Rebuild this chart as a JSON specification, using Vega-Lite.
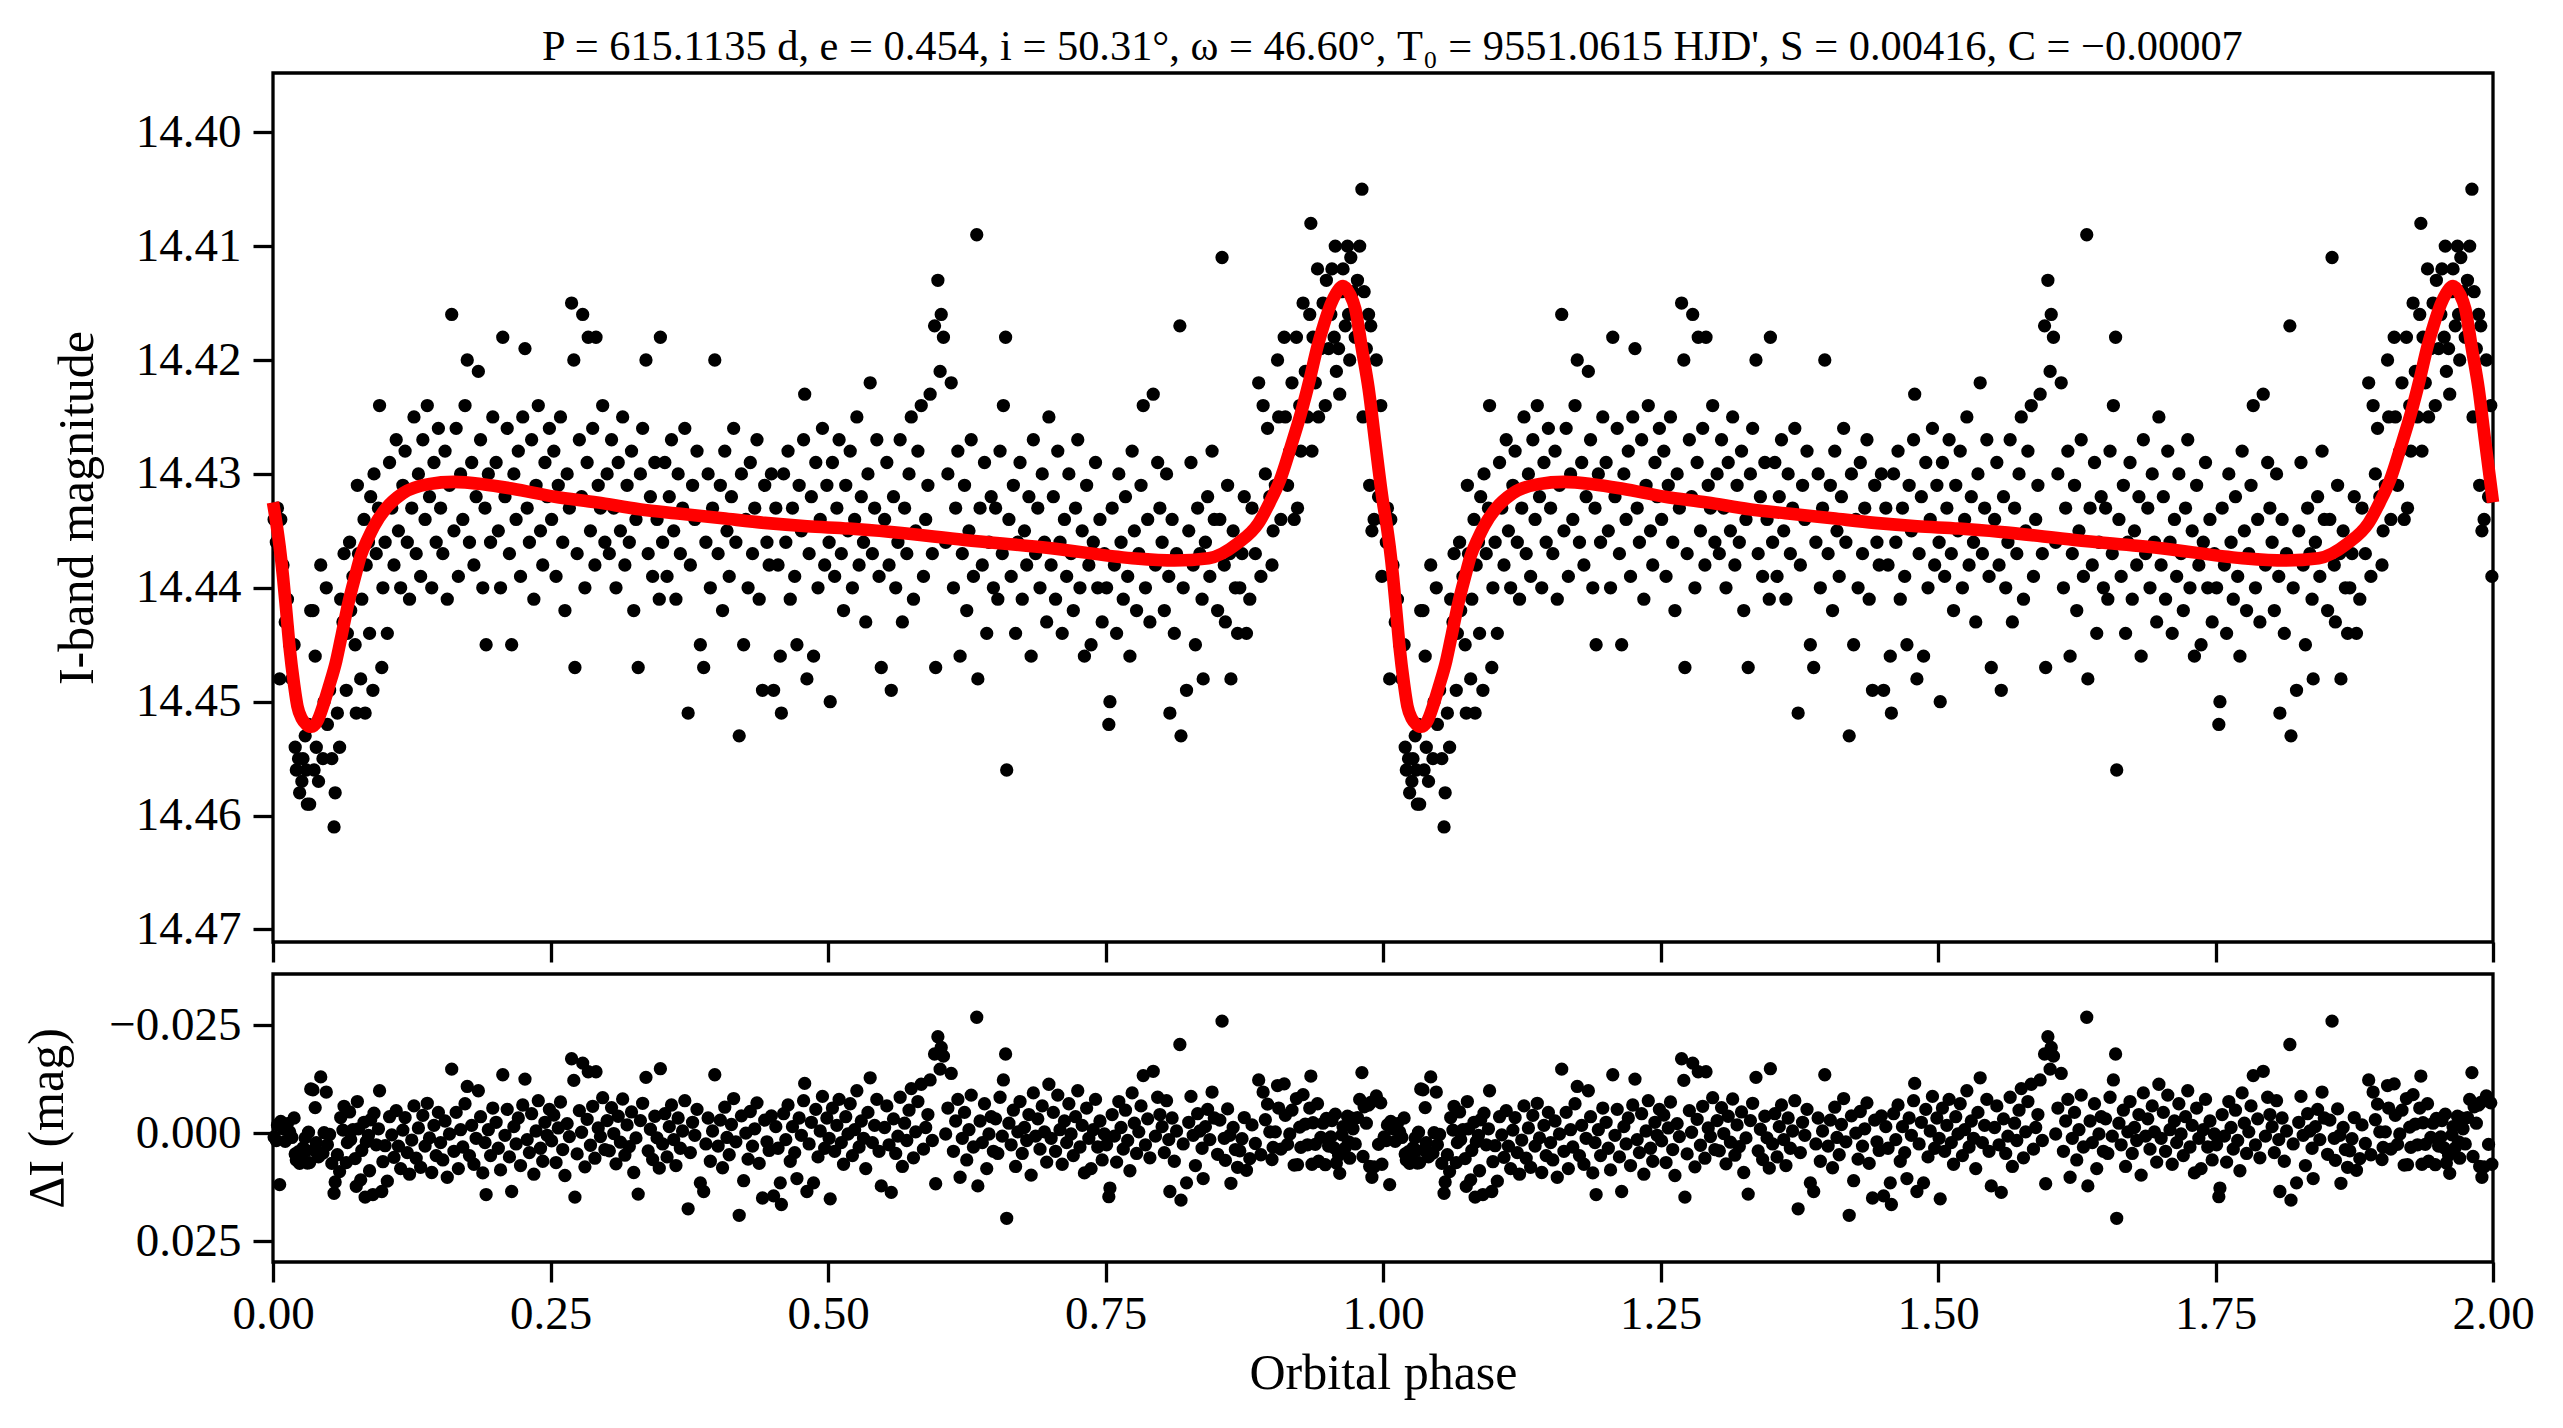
{
  "$schema": "https://vega.github.io/schema/vega-lite/v6.json",
  "background": "white",
  "padding": {"left": 21, "top": 25, "right": 5, "bottom": 5},
  "title": {
    "text": "P = 615.1135 d, e = 0.454, i = 50.31°, ω = 46.60°, T₀ = 9551.0615 HJD', S = 0.00416, C = −0.00007",
    "font": "Liberation Serif", "fontSize": 42.4, "fontWeight": "normal", "color": "black",
    "anchor": "middle", "offset": 2, "dx": 114
  },
  "config": {
    "view": {"stroke": "black", "strokeWidth": 3.3},
    "axis": {
      "domain": false, "grid": false, "labelFlush": false,
      "tickSize": 20, "tickWidth": 3.3, "tickColor": "black",
      "labelFont": "Liberation Serif", "labelFontSize": 47, "labelColor": "black", "labelPadding": 12,
      "titleFont": "Liberation Serif", "titleFontSize": 50, "titleFontWeight": "normal", "titleColor": "black"
    },
    "concat": {"spacing": 6}
  },
  "datasets": {
    "fit": [
      {"p":0,"c":14.4325},{"p":0.003,"c":14.4343},{"p":0.006,"c":14.4364},{"p":0.009,"c":14.439},{"p":0.012,"c":14.4421},{"p":0.015,"c":14.4453},{"p":0.019,"c":14.4485},{"p":0.022,"c":14.4504},{"p":0.026,"c":14.4515},{"p":0.03,"c":14.452},{"p":0.0345,"c":14.4522},{"p":0.04,"c":14.4517},{"p":0.045,"c":14.4504},{"p":0.05,"c":14.4488},{"p":0.057,"c":14.4464},{"p":0.062,"c":14.4441},{"p":0.068,"c":14.4413},{"p":0.074,"c":14.439},{"p":0.079,"c":14.4372},{"p":0.085,"c":14.4358},{"p":0.091,"c":14.4346},{"p":0.102,"c":14.433},{"p":0.117,"c":14.4317},{"p":0.14,"c":14.4309},{"p":0.163,"c":14.4307},{"p":0.189,"c":14.4309},{"p":0.216,"c":14.4313},{"p":0.254,"c":14.432},{"p":0.292,"c":14.4325},{"p":0.33,"c":14.4331},{"p":0.367,"c":14.4335},{"p":0.405,"c":14.4339},{"p":0.443,"c":14.4343},{"p":0.481,"c":14.4346},{"p":0.519,"c":14.4348},{"p":0.557,"c":14.4351},{"p":0.623,"c":14.4358},{"p":0.699,"c":14.4365},{"p":0.774,"c":14.4374},{"p":0.812,"c":14.4376},{"p":0.843,"c":14.4374},{"p":0.869,"c":14.4361},{"p":0.888,"c":14.4343},{"p":0.898,"c":14.4325},{"p":0.907,"c":14.4306},{"p":0.917,"c":14.4276},{"p":0.926,"c":14.4247},{"p":0.934,"c":14.4217},{"p":0.941,"c":14.4188},{"p":0.947,"c":14.4168},{"p":0.953,"c":14.4151},{"p":0.958,"c":14.4141},{"p":0.964,"c":14.4135},{"p":0.97,"c":14.4142},{"p":0.975,"c":14.4155},{"p":0.981,"c":14.419},{"p":0.987,"c":14.4225},{"p":0.993,"c":14.4272},
      {"p":1,"c":14.4325},{"p":1.003,"c":14.4343},{"p":1.006,"c":14.4364},{"p":1.009,"c":14.439},{"p":1.012,"c":14.4421},{"p":1.015,"c":14.4453},{"p":1.019,"c":14.4485},{"p":1.022,"c":14.4504},{"p":1.026,"c":14.4515},{"p":1.03,"c":14.452},{"p":1.0345,"c":14.4522},{"p":1.04,"c":14.4517},{"p":1.045,"c":14.4504},{"p":1.05,"c":14.4488},{"p":1.057,"c":14.4464},{"p":1.062,"c":14.4441},{"p":1.068,"c":14.4413},{"p":1.074,"c":14.439},{"p":1.079,"c":14.4372},{"p":1.085,"c":14.4358},{"p":1.091,"c":14.4346},{"p":1.102,"c":14.433},{"p":1.117,"c":14.4317},{"p":1.14,"c":14.4309},{"p":1.163,"c":14.4307},{"p":1.189,"c":14.4309},{"p":1.216,"c":14.4313},{"p":1.254,"c":14.432},{"p":1.292,"c":14.4325},{"p":1.33,"c":14.4331},{"p":1.367,"c":14.4335},{"p":1.405,"c":14.4339},{"p":1.443,"c":14.4343},{"p":1.481,"c":14.4346},{"p":1.519,"c":14.4348},{"p":1.557,"c":14.4351},{"p":1.623,"c":14.4358},{"p":1.699,"c":14.4365},{"p":1.774,"c":14.4374},{"p":1.812,"c":14.4376},{"p":1.843,"c":14.4374},{"p":1.869,"c":14.4361},{"p":1.888,"c":14.4343},{"p":1.898,"c":14.4325},{"p":1.907,"c":14.4306},{"p":1.917,"c":14.4276},{"p":1.926,"c":14.4247},{"p":1.934,"c":14.4217},{"p":1.941,"c":14.4188},{"p":1.947,"c":14.4168},{"p":1.953,"c":14.4151},{"p":1.958,"c":14.4141},{"p":1.964,"c":14.4135},{"p":1.97,"c":14.4142},{"p":1.975,"c":14.4155},{"p":1.981,"c":14.419},{"p":1.987,"c":14.4225},{"p":1.993,"c":14.4272},{"p":2,"c":14.4325}
    ],
    "pts": [
      {"p":0.001,"m":14.434,"r":0.0009},{"p":0.003,"m":14.436,"r":0.0017},{"p":0.004,"m":14.433,"r":-0.0019},{"p":0.006,"m":14.448,"r":0.0119},{"p":0.007,"m":14.434,"r":-0.0027},{"p":0.009,"m":14.438,"r":-0.001},
      {"p":0.011,"m":14.443,"r":0.0019},{"p":0.013,"m":14.441,"r":-0.0022},{"p":0.015,"m":14.445,"r":-0.0003},{"p":0.017,"m":14.448,"r":0.001},{"p":0.019,"m":14.445,"r":-0.0035},{"p":0.02,"m":14.454,"r":0.0048},{"p":0.021,"m":14.456,"r":0.0062},{"p":0.023,"m":14.455,"r":0.0043},{"p":0.024,"m":14.458,"r":0.007},{"p":0.026,"m":14.457,"r":0.0056},{"p":0.027,"m":14.455,"r":0.0034},{"p":0.029,"m":14.453,"r":0.0011},{"p":0.03,"m":14.456,"r":0.004},
      {"p":0.031,"m":14.459,"r":0.0069},{"p":0.032,"m":14.452,"r":-0.0002},{"p":0.033,"m":14.459,"r":0.0068},{"p":0.034,"m":14.442,"r":-0.0102},{"p":0.036,"m":14.442,"r":-0.01},{"p":0.037,"m":14.456,"r":0.0039},{"p":0.038,"m":14.446,"r":-0.0059},{"p":0.039,"m":14.454,"r":0.0022},{"p":0.041,"m":14.457,"r":0.0055},{"p":0.043,"m":14.438,"r":-0.013},{"p":0.045,"m":14.455,"r":0.0046},{"p":0.046,"m":14.45,"r":-0.0001},{"p":0.048,"m":14.44,"r":-0.0095},{"p":0.049,"m":14.452,"r":0.0027},{"p":0.051,"m":14.449,"r":0.0003},{"p":0.053,"m":14.455,"r":0.007},{"p":0.055,"m":14.461,"r":0.0139},{"p":0.056,"m":14.458,"r":0.0113},{"p":0.058,"m":14.451,"r":0.005},{"p":0.06,"m":14.454,"r":0.0089},
      {"p":0.061,"m":14.441,"r":-0.0036},{"p":0.063,"m":14.443,"r":-0.0007},{"p":0.064,"m":14.437,"r":-0.0062},{"p":0.066,"m":14.449,"r":0.0068},{"p":0.067,"m":14.444,"r":0.0022},{"p":0.069,"m":14.436,"r":-0.0049},{"p":0.07,"m":14.442,"r":0.0015},{"p":0.072,"m":14.439,"r":-0.0008},{"p":0.074,"m":14.445,"r":0.0059},{"p":0.075,"m":14.451,"r":0.0123},{"p":0.076,"m":14.431,"r":-0.0073},{"p":0.077,"m":14.437,"r":-0.001},{"p":0.079,"m":14.448,"r":0.0108},{"p":0.08,"m":14.441,"r":0.004},{"p":0.082,"m":14.434,"r":-0.0025},{"p":0.083,"m":14.451,"r":0.0148},{"p":0.084,"m":14.438,"r":0.002},{"p":0.086,"m":14.436,"r":0.0005},{"p":0.087,"m":14.444,"r":0.0087},{"p":0.088,"m":14.432,"r":-0.0031},{"p":0.09,"m":14.449,"r":0.0142},{"p":0.091,"m":14.43,"r":-0.0046},{"p":0.093,"m":14.437,"r":0.0027},{"p":0.095,"m":14.433,"r":-0.001},{"p":0.096,"m":14.424,"r":-0.0098},{"p":0.098,"m":14.447,"r":0.0135},{"p":0.099,"m":14.44,"r":0.0066},
      {"p":0.101,"m":14.436,"r":0.0029},{"p":0.103,"m":14.444,"r":0.0111},{"p":0.105,"m":14.429,"r":-0.0038},{"p":0.107,"m":14.433,"r":0.0004},{"p":0.109,"m":14.438,"r":0.0056},{"p":0.111,"m":14.427,"r":-0.0052},{"p":0.113,"m":14.435,"r":0.003},{"p":0.115,"m":14.44,"r":0.0082},{"p":0.117,"m":14.431,"r":-0.0007},{"p":0.119,"m":14.428,"r":-0.0036},{"p":0.121,"m":14.436,"r":0.0045},{"p":0.123,"m":14.441,"r":0.0095},{"p":0.125,"m":14.433,"r":0.0016},{"p":0.127,"m":14.425,"r":-0.0063},{"p":0.129,"m":14.437,"r":0.0058},{"p":0.131,"m":14.43,"r":-0.0012},{"p":0.133,"m":14.439,"r":0.0079},{"p":0.135,"m":14.427,"r":-0.0041},{"p":0.137,"m":14.434,"r":0.003},{"p":0.139,"m":14.424,"r":-0.0069},{"p":0.141,"m":14.432,"r":0.0011},{"p":0.143,"m":14.44,"r":0.0091},{"p":0.145,"m":14.429,"r":-0.0018},{"p":0.147,"m":14.436,"r":0.0052},{"p":0.149,"m":14.426,"r":-0.0048},
      {"p":0.151,"m":14.433,"r":0.0022},{"p":0.153,"m":14.437,"r":0.0062},{"p":0.155,"m":14.428,"r":-0.0028},{"p":0.157,"m":14.441,"r":0.0102},{"p":0.159,"m":14.431,"r":0.0002},{"p":0.161,"m":14.416,"r":-0.0148},{"p":0.163,"m":14.435,"r":0.0042},{"p":0.165,"m":14.426,"r":-0.0048},{"p":0.167,"m":14.439,"r":0.0082},{"p":0.169,"m":14.43,"r":-0.0008},{"p":0.171,"m":14.434,"r":0.0032},{"p":0.173,"m":14.424,"r":-0.0068},{"p":0.175,"m":14.42,"r":-0.0108},{"p":0.177,"m":14.436,"r":0.0052},{"p":0.179,"m":14.429,"r":-0.0018},{"p":0.181,"m":14.438,"r":0.0072},{"p":0.183,"m":14.432,"r":0.0012},{"p":0.185,"m":14.421,"r":-0.0098},{"p":0.187,"m":14.427,"r":-0.0038},{"p":0.189,"m":14.44,"r":0.0092},{"p":0.191,"m":14.433,"r":0.0022},{"p":0.192,"m":14.445,"r":0.0142},{"p":0.194,"m":14.43,"r":-0.0008},{"p":0.196,"m":14.436,"r":0.0052},{"p":0.198,"m":14.425,"r":-0.0058},
      {"p":0.201,"m":14.429,"r":-0.0025},{"p":0.203,"m":14.435,"r":0.0035},{"p":0.205,"m":14.44,"r":0.0085},{"p":0.207,"m":14.418,"r":-0.0135},{"p":0.209,"m":14.432,"r":0.0005},{"p":0.211,"m":14.426,"r":-0.0055},{"p":0.213,"m":14.437,"r":0.0055},{"p":0.215,"m":14.445,"r":0.0135},{"p":0.217,"m":14.43,"r":-0.0015},{"p":0.219,"m":14.434,"r":0.0025},{"p":0.221,"m":14.428,"r":-0.0035},{"p":0.223,"m":14.439,"r":0.0075},{"p":0.225,"m":14.425,"r":-0.0065},{"p":0.227,"m":14.419,"r":-0.0125},{"p":0.229,"m":14.433,"r":0.0015},{"p":0.231,"m":14.436,"r":0.0045},{"p":0.233,"m":14.427,"r":-0.0045},{"p":0.235,"m":14.441,"r":0.0095},{"p":0.237,"m":14.431,"r":-0.0005},{"p":0.239,"m":14.424,"r":-0.0075},{"p":0.241,"m":14.435,"r":0.0035},{"p":0.243,"m":14.438,"r":0.0065},{"p":0.245,"m":14.429,"r":-0.0025},{"p":0.247,"m":14.432,"r":0.0005},{"p":0.249,"m":14.426,"r":-0.0055},
      {"p":0.251,"m":14.434,"r":0.0018},{"p":0.253,"m":14.428,"r":-0.0042},{"p":0.255,"m":14.439,"r":0.0068},{"p":0.257,"m":14.431,"r":-0.0012},{"p":0.259,"m":14.425,"r":-0.0072},{"p":0.261,"m":14.436,"r":0.0038},{"p":0.263,"m":14.442,"r":0.0098},{"p":0.265,"m":14.43,"r":-0.0022},{"p":0.267,"m":14.433,"r":0.0008},{"p":0.269,"m":14.415,"r":-0.0172},{"p":0.271,"m":14.42,"r":-0.0122},{"p":0.272,"m":14.447,"r":0.0148},{"p":0.274,"m":14.437,"r":0.0048},{"p":0.276,"m":14.427,"r":-0.0052},{"p":0.278,"m":14.432,"r":-0.0002},{"p":0.279,"m":14.416,"r":-0.0162},{"p":0.281,"m":14.44,"r":0.0078},{"p":0.283,"m":14.429,"r":-0.0032},{"p":0.284,"m":14.418,"r":-0.0142},{"p":0.286,"m":14.435,"r":0.0028},{"p":0.288,"m":14.426,"r":-0.0062},{"p":0.29,"m":14.438,"r":0.0058},{"p":0.291,"m":14.418,"r":-0.0142},{"p":0.293,"m":14.431,"r":-0.0012},{"p":0.295,"m":14.433,"r":0.0008},{"p":0.297,"m":14.424,"r":-0.0082},{"p":0.299,"m":14.436,"r":0.0038},
      {"p":0.301,"m":14.43,"r":-0.0029},{"p":0.303,"m":14.437,"r":0.0041},{"p":0.305,"m":14.427,"r":-0.0059},{"p":0.307,"m":14.433,"r":0.0001},{"p":0.309,"m":14.44,"r":0.0071},{"p":0.311,"m":14.429,"r":-0.0039},{"p":0.313,"m":14.435,"r":0.0021},{"p":0.315,"m":14.425,"r":-0.0079},{"p":0.317,"m":14.438,"r":0.0051},{"p":0.319,"m":14.431,"r":-0.0019},{"p":0.321,"m":14.436,"r":0.0031},{"p":0.323,"m":14.428,"r":-0.0049},{"p":0.325,"m":14.442,"r":0.0091},{"p":0.327,"m":14.434,"r":0.0011},{"p":0.329,"m":14.447,"r":0.0141},{"p":0.331,"m":14.43,"r":-0.0029},{"p":0.333,"m":14.426,"r":-0.0069},{"p":0.336,"m":14.42,"r":-0.0129},{"p":0.338,"m":14.437,"r":0.0041},{"p":0.34,"m":14.432,"r":-0.0009},{"p":0.342,"m":14.439,"r":0.0061},{"p":0.344,"m":14.429,"r":-0.0039},{"p":0.346,"m":14.434,"r":0.0011},{"p":0.348,"m":14.441,"r":0.0081},{"p":0.349,"m":14.418,"r":-0.0149},
      {"p":0.351,"m":14.436,"r":0.0025},{"p":0.353,"m":14.429,"r":-0.0045},{"p":0.355,"m":14.439,"r":0.0055},{"p":0.357,"m":14.432,"r":-0.0015},{"p":0.359,"m":14.427,"r":-0.0065},{"p":0.361,"m":14.435,"r":0.0015},{"p":0.363,"m":14.441,"r":0.0075},{"p":0.365,"m":14.43,"r":-0.0035},{"p":0.367,"m":14.437,"r":0.0035},{"p":0.369,"m":14.433,"r":-0.0005},{"p":0.371,"m":14.426,"r":-0.0075},{"p":0.374,"m":14.451,"r":0.0175},{"p":0.376,"m":14.438,"r":0.0045},{"p":0.378,"m":14.431,"r":-0.0025},{"p":0.38,"m":14.434,"r":0.0005},{"p":0.382,"m":14.428,"r":-0.0055},{"p":0.385,"m":14.445,"r":0.0115},{"p":0.388,"m":14.447,"r":0.0135},{"p":0.39,"m":14.436,"r":0.0025},{"p":0.392,"m":14.43,"r":-0.0035},{"p":0.394,"m":14.44,"r":0.0065},{"p":0.396,"m":14.433,"r":-0.0005},{"p":0.398,"m":14.42,"r":-0.0135},
      {"p":0.401,"m":14.437,"r":0.003},{"p":0.403,"m":14.431,"r":-0.003},{"p":0.405,"m":14.442,"r":0.008},{"p":0.407,"m":14.428,"r":-0.006},{"p":0.409,"m":14.435,"r":0.001},{"p":0.411,"m":14.439,"r":0.005},{"p":0.413,"m":14.432,"r":-0.002},{"p":0.415,"m":14.426,"r":-0.008},{"p":0.417,"m":14.436,"r":0.002},{"p":0.42,"m":14.453,"r":0.019},{"p":0.422,"m":14.43,"r":-0.004},{"p":0.424,"m":14.445,"r":0.011},{"p":0.426,"m":14.434,"r":0},{"p":0.428,"m":14.44,"r":0.006},{"p":0.43,"m":14.429,"r":-0.005},{"p":0.432,"m":14.437,"r":0.003},{"p":0.434,"m":14.433,"r":-0.001},{"p":0.436,"m":14.427,"r":-0.007},{"p":0.438,"m":14.441,"r":0.007},{"p":0.441,"m":14.449,"r":0.015},{"p":0.443,"m":14.431,"r":-0.003},{"p":0.445,"m":14.436,"r":0.002},{"p":0.447,"m":14.438,"r":0.004},{"p":0.449,"m":14.43,"r":-0.004},
      {"p":0.451,"m":14.449,"r":0.0145},{"p":0.453,"m":14.433,"r":-0.0015},{"p":0.455,"m":14.438,"r":0.0035},{"p":0.457,"m":14.446,"r":0.0115},{"p":0.458,"m":14.451,"r":0.0165},{"p":0.46,"m":14.43,"r":-0.0045},{"p":0.462,"m":14.436,"r":0.0015},{"p":0.464,"m":14.428,"r":-0.0065},{"p":0.466,"m":14.441,"r":0.0065},{"p":0.468,"m":14.433,"r":-0.0015},{"p":0.47,"m":14.439,"r":0.0045},{"p":0.472,"m":14.445,"r":0.0105},{"p":0.474,"m":14.431,"r":-0.0035},{"p":0.476,"m":14.435,"r":0.0005},{"p":0.478,"m":14.427,"r":-0.0075},{"p":0.479,"m":14.423,"r":-0.0115},{"p":0.481,"m":14.448,"r":0.0135},{"p":0.483,"m":14.437,"r":0.0025},{"p":0.485,"m":14.432,"r":-0.0025},{"p":0.487,"m":14.446,"r":0.0115},{"p":0.489,"m":14.429,"r":-0.0055},{"p":0.491,"m":14.44,"r":0.0055},{"p":0.493,"m":14.434,"r":-0.0005},{"p":0.495,"m":14.426,"r":-0.0085},{"p":0.497,"m":14.438,"r":0.0035},{"p":0.499,"m":14.431,"r":-0.0035},
      {"p":0.501,"m":14.436,"r":0.0012},{"p":0.502,"m":14.45,"r":0.0152},{"p":0.504,"m":14.429,"r":-0.0058},{"p":0.506,"m":14.439,"r":0.0042},{"p":0.508,"m":14.433,"r":-0.0018},{"p":0.51,"m":14.427,"r":-0.0078},{"p":0.512,"m":14.437,"r":0.0022},{"p":0.514,"m":14.442,"r":0.0072},{"p":0.516,"m":14.431,"r":-0.0038},{"p":0.518,"m":14.435,"r":0.0002},{"p":0.52,"m":14.428,"r":-0.0068},{"p":0.522,"m":14.44,"r":0.0052},{"p":0.524,"m":14.434,"r":-0.0008},{"p":0.526,"m":14.425,"r":-0.0098},{"p":0.528,"m":14.438,"r":0.0032},{"p":0.53,"m":14.432,"r":-0.0028},{"p":0.532,"m":14.436,"r":0.0012},{"p":0.534,"m":14.443,"r":0.0082},{"p":0.536,"m":14.43,"r":-0.0048},{"p":0.538,"m":14.422,"r":-0.0128},{"p":0.54,"m":14.437,"r":0.0022},{"p":0.542,"m":14.433,"r":-0.0018},{"p":0.544,"m":14.427,"r":-0.0078},{"p":0.546,"m":14.439,"r":0.0042},{"p":0.548,"m":14.447,"r":0.0122},
      {"p":0.551,"m":14.434,"r":-0.0013},{"p":0.553,"m":14.429,"r":-0.0063},{"p":0.555,"m":14.438,"r":0.0027},{"p":0.557,"m":14.449,"r":0.0137},{"p":0.559,"m":14.432,"r":-0.0033},{"p":0.561,"m":14.44,"r":0.0047},{"p":0.563,"m":14.436,"r":0.0007},{"p":0.565,"m":14.427,"r":-0.0083},{"p":0.567,"m":14.443,"r":0.0077},{"p":0.569,"m":14.433,"r":-0.0023},{"p":0.571,"m":14.437,"r":0.0017},{"p":0.573,"m":14.43,"r":-0.0053},{"p":0.575,"m":14.425,"r":-0.0103},{"p":0.577,"m":14.441,"r":0.0057},{"p":0.579,"m":14.435,"r":-0.0003},{"p":0.581,"m":14.428,"r":-0.0073},{"p":0.584,"m":14.424,"r":-0.0113},{"p":0.586,"m":14.439,"r":0.0037},{"p":0.588,"m":14.434,"r":-0.0013},{"p":0.59,"m":14.431,"r":-0.0043},{"p":0.592,"m":14.423,"r":-0.0123},{"p":0.594,"m":14.437,"r":0.0017},{"p":0.596,"m":14.417,"r":-0.0183},{"p":0.597,"m":14.447,"r":0.0117},{"p":0.599,"m":14.413,"r":-0.0223},
      {"p":0.601,"m":14.421,"r":-0.0148},{"p":0.602,"m":14.416,"r":-0.0198},{"p":0.604,"m":14.418,"r":-0.0178},{"p":0.606,"m":14.436,"r":0.0002},{"p":0.608,"m":14.43,"r":-0.0058},{"p":0.611,"m":14.422,"r":-0.0138},{"p":0.613,"m":14.44,"r":0.0042},{"p":0.615,"m":14.433,"r":-0.0028},{"p":0.617,"m":14.428,"r":-0.0078},{"p":0.619,"m":14.446,"r":0.0102},{"p":0.621,"m":14.437,"r":0.0012},{"p":0.623,"m":14.431,"r":-0.0048},{"p":0.625,"m":14.442,"r":0.0062},{"p":0.627,"m":14.435,"r":-0.0008},{"p":0.629,"m":14.427,"r":-0.0088},{"p":0.631,"m":14.439,"r":0.0032},{"p":0.634,"m":14.409,"r":-0.0268},{"p":0.635,"m":14.448,"r":0.0122},{"p":0.637,"m":14.433,"r":-0.0028},{"p":0.639,"m":14.438,"r":0.0022},{"p":0.641,"m":14.429,"r":-0.0068},{"p":0.643,"m":14.444,"r":0.0082},{"p":0.645,"m":14.436,"r":0.0002},{"p":0.647,"m":14.432,"r":-0.0038},{"p":0.649,"m":14.44,"r":0.0042},
      {"p":0.651,"m":14.433,"r":-0.0033},{"p":0.653,"m":14.441,"r":0.0047},{"p":0.655,"m":14.428,"r":-0.0083},{"p":0.657,"m":14.437,"r":0.0007},{"p":0.658,"m":14.424,"r":-0.0123},{"p":0.66,"m":14.418,"r":-0.0183},{"p":0.661,"m":14.456,"r":0.0197},{"p":0.663,"m":14.434,"r":-0.0023},{"p":0.665,"m":14.439,"r":0.0027},{"p":0.667,"m":14.431,"r":-0.0053},{"p":0.669,"m":14.444,"r":0.0077},{"p":0.671,"m":14.436,"r":-0.0003},{"p":0.673,"m":14.429,"r":-0.0073},{"p":0.675,"m":14.441,"r":0.0047},{"p":0.677,"m":14.435,"r":-0.0013},{"p":0.679,"m":14.438,"r":0.0017},{"p":0.681,"m":14.432,"r":-0.0043},{"p":0.683,"m":14.446,"r":0.0097},{"p":0.685,"m":14.427,"r":-0.0093},{"p":0.687,"m":14.437,"r":0.0007},{"p":0.689,"m":14.433,"r":-0.0033},{"p":0.691,"m":14.44,"r":0.0037},{"p":0.693,"m":14.43,"r":-0.0063},{"p":0.695,"m":14.436,"r":-0.0003},{"p":0.697,"m":14.443,"r":0.0067},{"p":0.699,"m":14.425,"r":-0.0113},
      {"p":0.701,"m":14.438,"r":0.0012},{"p":0.703,"m":14.432,"r":-0.0048},{"p":0.705,"m":14.441,"r":0.0042},{"p":0.707,"m":14.428,"r":-0.0088},{"p":0.709,"m":14.436,"r":-0.0008},{"p":0.711,"m":14.444,"r":0.0072},{"p":0.713,"m":14.434,"r":-0.0028},{"p":0.715,"m":14.439,"r":0.0022},{"p":0.717,"m":14.43,"r":-0.0068},{"p":0.719,"m":14.437,"r":0.0002},{"p":0.721,"m":14.442,"r":0.0052},{"p":0.723,"m":14.433,"r":-0.0038},{"p":0.725,"m":14.427,"r":-0.0098},{"p":0.727,"m":14.44,"r":0.0032},{"p":0.729,"m":14.435,"r":-0.0018},{"p":0.731,"m":14.446,"r":0.0092},{"p":0.733,"m":14.431,"r":-0.0058},{"p":0.735,"m":14.438,"r":0.0012},{"p":0.737,"m":14.445,"r":0.0082},{"p":0.739,"m":14.436,"r":-0.0008},{"p":0.741,"m":14.429,"r":-0.0078},{"p":0.743,"m":14.44,"r":0.0032},{"p":0.745,"m":14.434,"r":-0.0028},{"p":0.747,"m":14.443,"r":0.0062},{"p":0.749,"m":14.437,"r":0.0002},
      {"p":0.751,"m":14.44,"r":0.0027},{"p":0.753,"m":14.452,"r":0.0147},{"p":0.754,"m":14.45,"r":0.0127},{"p":0.756,"m":14.433,"r":-0.0043},{"p":0.758,"m":14.438,"r":0.0007},{"p":0.76,"m":14.444,"r":0.0067},{"p":0.762,"m":14.43,"r":-0.0073},{"p":0.764,"m":14.436,"r":-0.0013},{"p":0.766,"m":14.441,"r":0.0037},{"p":0.768,"m":14.432,"r":-0.0053},{"p":0.77,"m":14.439,"r":0.0017},{"p":0.772,"m":14.446,"r":0.0087},{"p":0.774,"m":14.428,"r":-0.0093},{"p":0.776,"m":14.435,"r":-0.0023},{"p":0.778,"m":14.442,"r":0.0047},{"p":0.78,"m":14.437,"r":-0.0003},{"p":0.782,"m":14.431,"r":-0.0063},{"p":0.784,"m":14.424,"r":-0.0133},{"p":0.786,"m":14.44,"r":0.0027},{"p":0.788,"m":14.434,"r":-0.0033},{"p":0.79,"m":14.443,"r":0.0057},{"p":0.793,"m":14.423,"r":-0.0143},{"p":0.795,"m":14.438,"r":0.0007},{"p":0.797,"m":14.429,"r":-0.0083},{"p":0.799,"m":14.433,"r":-0.0043},
      {"p":0.801,"m":14.436,"r":-0.0015},{"p":0.803,"m":14.442,"r":0.0045},{"p":0.805,"m":14.43,"r":-0.0075},{"p":0.807,"m":14.439,"r":0.0015},{"p":0.808,"m":14.451,"r":0.0135},{"p":0.81,"m":14.434,"r":-0.0035},{"p":0.812,"m":14.444,"r":0.0065},{"p":0.814,"m":14.437,"r":-0.0005},{"p":0.817,"m":14.417,"r":-0.0205},{"p":0.818,"m":14.453,"r":0.0155},{"p":0.82,"m":14.44,"r":0.0025},{"p":0.823,"m":14.449,"r":0.0115},{"p":0.825,"m":14.435,"r":-0.0025},{"p":0.827,"m":14.429,"r":-0.0085},{"p":0.829,"m":14.438,"r":0.0005},{"p":0.831,"m":14.445,"r":0.0075},{"p":0.833,"m":14.433,"r":-0.0045},{"p":0.835,"m":14.437,"r":-0.0005},{"p":0.837,"m":14.441,"r":0.0035},{"p":0.838,"m":14.448,"r":0.0105},{"p":0.84,"m":14.436,"r":-0.0015},{"p":0.842,"m":14.432,"r":-0.0055},{"p":0.844,"m":14.439,"r":0.0015},{"p":0.846,"m":14.428,"r":-0.0095},{"p":0.848,"m":14.434,"r":-0.0035},
      {"p":0.851,"m":14.442,"r":0.0049},{"p":0.853,"m":14.434,"r":-0.003},{"p":0.855,"m":14.411,"r":-0.0259},{"p":0.857,"m":14.438,"r":0.0012},{"p":0.858,"m":14.443,"r":0.0063},{"p":0.86,"m":14.431,"r":-0.0056},{"p":0.862,"m":14.437,"r":0.0005},{"p":0.863,"m":14.448,"r":0.0116},{"p":0.865,"m":14.435,"r":-0.0013},{"p":0.867,"m":14.44,"r":0.0038},{"p":0.869,"m":14.444,"r":0.0079},{"p":0.871,"m":14.44,"r":0.0041},{"p":0.873,"m":14.437,"r":0.0013},{"p":0.875,"m":14.432,"r":-0.0036},{"p":0.877,"m":14.444,"r":0.0086},{"p":0.88,"m":14.441,"r":0.0059},{"p":0.882,"m":14.433,"r":-0.0019},{"p":0.885,"m":14.437,"r":0.0024},{"p":0.888,"m":14.422,"r":-0.0123},{"p":0.89,"m":14.439,"r":0.005},{"p":0.892,"m":14.424,"r":-0.0095},{"p":0.894,"m":14.43,"r":-0.0031},{"p":0.896,"m":14.426,"r":-0.0067},{"p":0.898,"m":14.432,"r":-0.0003},{"p":0.9,"m":14.438,"r":0.0061},{"p":0.901,"m":14.435,"r":0.0033},
      {"p":0.903,"m":14.431,"r":-0.0003},{"p":0.905,"m":14.42,"r":-0.011},{"p":0.906,"m":14.425,"r":-0.0058},{"p":0.908,"m":14.434,"r":0.0037},{"p":0.911,"m":14.418,"r":-0.0114},{"p":0.912,"m":14.425,"r":-0.0041},{"p":0.914,"m":14.431,"r":0.0026},{"p":0.916,"m":14.428,"r":0.0002},{"p":0.918,"m":14.422,"r":-0.0053},{"p":0.92,"m":14.434,"r":0.0074},{"p":0.922,"m":14.418,"r":-0.008},{"p":0.923,"m":14.433,"r":0.0073},{"p":0.925,"m":14.424,"r":-0.0014},{"p":0.926,"m":14.428,"r":0.0033},{"p":0.928,"m":14.415,"r":-0.0089},{"p":0.93,"m":14.421,"r":-0.0021},{"p":0.932,"m":14.425,"r":0.0027},{"p":0.934,"m":14.416,"r":-0.0058},{"p":0.935,"m":14.408,"r":-0.0132},{"p":0.936,"m":14.428,"r":0.0072},{"p":0.937,"m":14.418,"r":-0.0024},{"p":0.939,"m":14.422,"r":0.0026},{"p":0.941,"m":14.412,"r":-0.0068},{"p":0.942,"m":14.425,"r":0.0065},{"p":0.944,"m":14.419,"r":0.001},{"p":0.946,"m":14.415,"r":-0.0023},{"p":0.948,"m":14.424,"r":0.0073},{"p":0.949,"m":14.413,"r":-0.0034},{"p":0.951,"m":14.419,"r":0.003},{"p":0.953,"m":14.416,"r":0.0009},{"p":0.954,"m":14.412,"r":-0.0029},{"p":0.956,"m":14.418,"r":0.0034},{"p":0.957,"m":14.41,"r":-0.0044},{"p":0.958,"m":14.421,"r":0.0069},{"p":0.96,"m":14.419,"r":0.0051},{"p":0.961,"m":14.423,"r":0.0093},{"p":0.963,"m":14.414,"r":0.0004},{"p":0.964,"m":14.412,"r":-0.0015},{"p":0.966,"m":14.417,"r":0.0034},{"p":0.968,"m":14.41,"r":-0.0039},{"p":0.969,"m":14.416,"r":0.002},{"p":0.97,"m":14.42,"r":0.0058},{"p":0.971,"m":14.411,"r":-0.0035},{"p":0.973,"m":14.414,"r":-0.001},{"p":0.975,"m":14.418,"r":0.0025},{"p":0.977,"m":14.413,"r":-0.0036},{"p":0.979,"m":14.41,"r":-0.0078},{"p":0.981,"m":14.405,"r":-0.014},{"p":0.982,"m":14.425,"r":0.0054},{"p":0.983,"m":14.414,"r":-0.0061},{"p":0.985,"m":14.419,"r":-0.0023},{"p":0.987,"m":14.416,"r":-0.0065},{"p":0.988,"m":14.431,"r":0.0077},{"p":0.989,"m":14.417,"r":-0.0071},{"p":0.99,"m":14.435,"r":0.0102},{"p":0.992,"m":14.434,"r":0.0078},{"p":0.994,"m":14.42,"r":-0.0086},{"p":0.996,"m":14.432,"r":0.0026},{"p":0.998,"m":14.424,"r":-0.007},{"p":0.999,"m":14.439,"r":0.0072},
      {"p":1.001,"m":14.434,"r":0.0009},{"p":1.003,"m":14.436,"r":0.0017},{"p":1.004,"m":14.433,"r":-0.0019},{"p":1.006,"m":14.448,"r":0.0119},{"p":1.007,"m":14.434,"r":-0.0027},{"p":1.009,"m":14.438,"r":-0.001},
      {"p":1.011,"m":14.443,"r":0.0019},{"p":1.013,"m":14.441,"r":-0.0022},{"p":1.015,"m":14.445,"r":-0.0003},{"p":1.017,"m":14.448,"r":0.001},{"p":1.019,"m":14.445,"r":-0.0035},{"p":1.02,"m":14.454,"r":0.0048},{"p":1.021,"m":14.456,"r":0.0062},{"p":1.023,"m":14.455,"r":0.0043},{"p":1.024,"m":14.458,"r":0.007},{"p":1.026,"m":14.457,"r":0.0056},{"p":1.027,"m":14.455,"r":0.0034},{"p":1.029,"m":14.453,"r":0.0011},{"p":1.03,"m":14.456,"r":0.004},
      {"p":1.031,"m":14.459,"r":0.0069},{"p":1.032,"m":14.452,"r":-0.0002},{"p":1.033,"m":14.459,"r":0.0068},{"p":1.034,"m":14.442,"r":-0.0102},{"p":1.036,"m":14.442,"r":-0.01},{"p":1.037,"m":14.456,"r":0.0039},{"p":1.038,"m":14.446,"r":-0.0059},{"p":1.039,"m":14.454,"r":0.0022},{"p":1.041,"m":14.457,"r":0.0055},{"p":1.043,"m":14.438,"r":-0.013},{"p":1.045,"m":14.455,"r":0.0046},{"p":1.046,"m":14.45,"r":-0.0001},{"p":1.048,"m":14.44,"r":-0.0095},{"p":1.049,"m":14.452,"r":0.0027},{"p":1.051,"m":14.449,"r":0.0003},{"p":1.053,"m":14.455,"r":0.007},{"p":1.055,"m":14.461,"r":0.0139},{"p":1.056,"m":14.458,"r":0.0113},{"p":1.058,"m":14.451,"r":0.005},{"p":1.06,"m":14.454,"r":0.0089},
      {"p":1.061,"m":14.441,"r":-0.0036},{"p":1.063,"m":14.443,"r":-0.0007},{"p":1.064,"m":14.437,"r":-0.0062},{"p":1.066,"m":14.449,"r":0.0068},{"p":1.067,"m":14.444,"r":0.0022},{"p":1.069,"m":14.436,"r":-0.0049},{"p":1.07,"m":14.442,"r":0.0015},{"p":1.072,"m":14.439,"r":-0.0008},{"p":1.074,"m":14.445,"r":0.0059},{"p":1.075,"m":14.451,"r":0.0123},{"p":1.076,"m":14.431,"r":-0.0073},{"p":1.077,"m":14.437,"r":-0.001},{"p":1.079,"m":14.448,"r":0.0108},{"p":1.08,"m":14.441,"r":0.004},{"p":1.082,"m":14.434,"r":-0.0025},{"p":1.083,"m":14.451,"r":0.0148},{"p":1.084,"m":14.438,"r":0.002},{"p":1.086,"m":14.436,"r":0.0005},{"p":1.087,"m":14.444,"r":0.0087},{"p":1.088,"m":14.432,"r":-0.0031},{"p":1.09,"m":14.449,"r":0.0142},{"p":1.091,"m":14.43,"r":-0.0046},{"p":1.093,"m":14.437,"r":0.0027},{"p":1.095,"m":14.433,"r":-0.001},{"p":1.096,"m":14.424,"r":-0.0098},{"p":1.098,"m":14.447,"r":0.0135},{"p":1.099,"m":14.44,"r":0.0066},
      {"p":1.101,"m":14.436,"r":0.0029},{"p":1.103,"m":14.444,"r":0.0111},{"p":1.105,"m":14.429,"r":-0.0038},{"p":1.107,"m":14.433,"r":0.0004},{"p":1.109,"m":14.438,"r":0.0056},{"p":1.111,"m":14.427,"r":-0.0052},{"p":1.113,"m":14.435,"r":0.003},{"p":1.115,"m":14.44,"r":0.0082},{"p":1.117,"m":14.431,"r":-0.0007},{"p":1.119,"m":14.428,"r":-0.0036},{"p":1.121,"m":14.436,"r":0.0045},{"p":1.123,"m":14.441,"r":0.0095},{"p":1.125,"m":14.433,"r":0.0016},{"p":1.127,"m":14.425,"r":-0.0063},{"p":1.129,"m":14.437,"r":0.0058},{"p":1.131,"m":14.43,"r":-0.0012},{"p":1.133,"m":14.439,"r":0.0079},{"p":1.135,"m":14.427,"r":-0.0041},{"p":1.137,"m":14.434,"r":0.003},{"p":1.139,"m":14.424,"r":-0.0069},{"p":1.141,"m":14.432,"r":0.0011},{"p":1.143,"m":14.44,"r":0.0091},{"p":1.145,"m":14.429,"r":-0.0018},{"p":1.147,"m":14.436,"r":0.0052},{"p":1.149,"m":14.426,"r":-0.0048},
      {"p":1.151,"m":14.433,"r":0.0022},{"p":1.153,"m":14.437,"r":0.0062},{"p":1.155,"m":14.428,"r":-0.0028},{"p":1.157,"m":14.441,"r":0.0102},{"p":1.159,"m":14.431,"r":0.0002},{"p":1.161,"m":14.416,"r":-0.0148},{"p":1.163,"m":14.435,"r":0.0042},{"p":1.165,"m":14.426,"r":-0.0048},{"p":1.167,"m":14.439,"r":0.0082},{"p":1.169,"m":14.43,"r":-0.0008},{"p":1.171,"m":14.434,"r":0.0032},{"p":1.173,"m":14.424,"r":-0.0068},{"p":1.175,"m":14.42,"r":-0.0108},{"p":1.177,"m":14.436,"r":0.0052},{"p":1.179,"m":14.429,"r":-0.0018},{"p":1.181,"m":14.438,"r":0.0072},{"p":1.183,"m":14.432,"r":0.0012},{"p":1.185,"m":14.421,"r":-0.0098},{"p":1.187,"m":14.427,"r":-0.0038},{"p":1.189,"m":14.44,"r":0.0092},{"p":1.191,"m":14.433,"r":0.0022},{"p":1.192,"m":14.445,"r":0.0142},{"p":1.194,"m":14.43,"r":-0.0008},{"p":1.196,"m":14.436,"r":0.0052},{"p":1.198,"m":14.425,"r":-0.0058},
      {"p":1.201,"m":14.429,"r":-0.0025},{"p":1.203,"m":14.435,"r":0.0035},{"p":1.205,"m":14.44,"r":0.0085},{"p":1.207,"m":14.418,"r":-0.0135},{"p":1.209,"m":14.432,"r":0.0005},{"p":1.211,"m":14.426,"r":-0.0055},{"p":1.213,"m":14.437,"r":0.0055},{"p":1.215,"m":14.445,"r":0.0135},{"p":1.217,"m":14.43,"r":-0.0015},{"p":1.219,"m":14.434,"r":0.0025},{"p":1.221,"m":14.428,"r":-0.0035},{"p":1.223,"m":14.439,"r":0.0075},{"p":1.225,"m":14.425,"r":-0.0065},{"p":1.227,"m":14.419,"r":-0.0125},{"p":1.229,"m":14.433,"r":0.0015},{"p":1.231,"m":14.436,"r":0.0045},{"p":1.233,"m":14.427,"r":-0.0045},{"p":1.235,"m":14.441,"r":0.0095},{"p":1.237,"m":14.431,"r":-0.0005},{"p":1.239,"m":14.424,"r":-0.0075},{"p":1.241,"m":14.435,"r":0.0035},{"p":1.243,"m":14.438,"r":0.0065},{"p":1.245,"m":14.429,"r":-0.0025},{"p":1.247,"m":14.432,"r":0.0005},{"p":1.249,"m":14.426,"r":-0.0055},
      {"p":1.251,"m":14.434,"r":0.0018},{"p":1.253,"m":14.428,"r":-0.0042},{"p":1.255,"m":14.439,"r":0.0068},{"p":1.257,"m":14.431,"r":-0.0012},{"p":1.259,"m":14.425,"r":-0.0072},{"p":1.261,"m":14.436,"r":0.0038},{"p":1.263,"m":14.442,"r":0.0098},{"p":1.265,"m":14.43,"r":-0.0022},{"p":1.267,"m":14.433,"r":0.0008},{"p":1.269,"m":14.415,"r":-0.0172},{"p":1.271,"m":14.42,"r":-0.0122},{"p":1.272,"m":14.447,"r":0.0148},{"p":1.274,"m":14.437,"r":0.0048},{"p":1.276,"m":14.427,"r":-0.0052},{"p":1.278,"m":14.432,"r":-0.0002},{"p":1.279,"m":14.416,"r":-0.0162},{"p":1.281,"m":14.44,"r":0.0078},{"p":1.283,"m":14.429,"r":-0.0032},{"p":1.284,"m":14.418,"r":-0.0142},{"p":1.286,"m":14.435,"r":0.0028},{"p":1.288,"m":14.426,"r":-0.0062},{"p":1.29,"m":14.438,"r":0.0058},{"p":1.291,"m":14.418,"r":-0.0142},{"p":1.293,"m":14.431,"r":-0.0012},{"p":1.295,"m":14.433,"r":0.0008},{"p":1.297,"m":14.424,"r":-0.0082},{"p":1.299,"m":14.436,"r":0.0038},
      {"p":1.301,"m":14.43,"r":-0.0029},{"p":1.303,"m":14.437,"r":0.0041},{"p":1.305,"m":14.427,"r":-0.0059},{"p":1.307,"m":14.433,"r":0.0001},{"p":1.309,"m":14.44,"r":0.0071},{"p":1.311,"m":14.429,"r":-0.0039},{"p":1.313,"m":14.435,"r":0.0021},{"p":1.315,"m":14.425,"r":-0.0079},{"p":1.317,"m":14.438,"r":0.0051},{"p":1.319,"m":14.431,"r":-0.0019},{"p":1.321,"m":14.436,"r":0.0031},{"p":1.323,"m":14.428,"r":-0.0049},{"p":1.325,"m":14.442,"r":0.0091},{"p":1.327,"m":14.434,"r":0.0011},{"p":1.329,"m":14.447,"r":0.0141},{"p":1.331,"m":14.43,"r":-0.0029},{"p":1.333,"m":14.426,"r":-0.0069},{"p":1.336,"m":14.42,"r":-0.0129},{"p":1.338,"m":14.437,"r":0.0041},{"p":1.34,"m":14.432,"r":-0.0009},{"p":1.342,"m":14.439,"r":0.0061},{"p":1.344,"m":14.429,"r":-0.0039},{"p":1.346,"m":14.434,"r":0.0011},{"p":1.348,"m":14.441,"r":0.0081},{"p":1.349,"m":14.418,"r":-0.0149},
      {"p":1.351,"m":14.436,"r":0.0025},{"p":1.353,"m":14.429,"r":-0.0045},{"p":1.355,"m":14.439,"r":0.0055},{"p":1.357,"m":14.432,"r":-0.0015},{"p":1.359,"m":14.427,"r":-0.0065},{"p":1.361,"m":14.435,"r":0.0015},{"p":1.363,"m":14.441,"r":0.0075},{"p":1.365,"m":14.43,"r":-0.0035},{"p":1.367,"m":14.437,"r":0.0035},{"p":1.369,"m":14.433,"r":-0.0005},{"p":1.371,"m":14.426,"r":-0.0075},{"p":1.374,"m":14.451,"r":0.0175},{"p":1.376,"m":14.438,"r":0.0045},{"p":1.378,"m":14.431,"r":-0.0025},{"p":1.38,"m":14.434,"r":0.0005},{"p":1.382,"m":14.428,"r":-0.0055},{"p":1.385,"m":14.445,"r":0.0115},{"p":1.388,"m":14.447,"r":0.0135},{"p":1.39,"m":14.436,"r":0.0025},{"p":1.392,"m":14.43,"r":-0.0035},{"p":1.394,"m":14.44,"r":0.0065},{"p":1.396,"m":14.433,"r":-0.0005},{"p":1.398,"m":14.42,"r":-0.0135},
      {"p":1.401,"m":14.437,"r":0.003},{"p":1.403,"m":14.431,"r":-0.003},{"p":1.405,"m":14.442,"r":0.008},{"p":1.407,"m":14.428,"r":-0.006},{"p":1.409,"m":14.435,"r":0.001},{"p":1.411,"m":14.439,"r":0.005},{"p":1.413,"m":14.432,"r":-0.002},{"p":1.415,"m":14.426,"r":-0.008},{"p":1.417,"m":14.436,"r":0.002},{"p":1.42,"m":14.453,"r":0.019},{"p":1.422,"m":14.43,"r":-0.004},{"p":1.424,"m":14.445,"r":0.011},{"p":1.426,"m":14.434,"r":0},{"p":1.428,"m":14.44,"r":0.006},{"p":1.43,"m":14.429,"r":-0.005},{"p":1.432,"m":14.437,"r":0.003},{"p":1.434,"m":14.433,"r":-0.001},{"p":1.436,"m":14.427,"r":-0.007},{"p":1.438,"m":14.441,"r":0.007},{"p":1.441,"m":14.449,"r":0.015},{"p":1.443,"m":14.431,"r":-0.003},{"p":1.445,"m":14.436,"r":0.002},{"p":1.447,"m":14.438,"r":0.004},{"p":1.449,"m":14.43,"r":-0.004},
      {"p":1.451,"m":14.449,"r":0.0145},{"p":1.453,"m":14.433,"r":-0.0015},{"p":1.455,"m":14.438,"r":0.0035},{"p":1.457,"m":14.446,"r":0.0115},{"p":1.458,"m":14.451,"r":0.0165},{"p":1.46,"m":14.43,"r":-0.0045},{"p":1.462,"m":14.436,"r":0.0015},{"p":1.464,"m":14.428,"r":-0.0065},{"p":1.466,"m":14.441,"r":0.0065},{"p":1.468,"m":14.433,"r":-0.0015},{"p":1.47,"m":14.439,"r":0.0045},{"p":1.472,"m":14.445,"r":0.0105},{"p":1.474,"m":14.431,"r":-0.0035},{"p":1.476,"m":14.435,"r":0.0005},{"p":1.478,"m":14.427,"r":-0.0075},{"p":1.479,"m":14.423,"r":-0.0115},{"p":1.481,"m":14.448,"r":0.0135},{"p":1.483,"m":14.437,"r":0.0025},{"p":1.485,"m":14.432,"r":-0.0025},{"p":1.487,"m":14.446,"r":0.0115},{"p":1.489,"m":14.429,"r":-0.0055},{"p":1.491,"m":14.44,"r":0.0055},{"p":1.493,"m":14.434,"r":-0.0005},{"p":1.495,"m":14.426,"r":-0.0085},{"p":1.497,"m":14.438,"r":0.0035},{"p":1.499,"m":14.431,"r":-0.0035},
      {"p":1.501,"m":14.436,"r":0.0012},{"p":1.502,"m":14.45,"r":0.0152},{"p":1.504,"m":14.429,"r":-0.0058},{"p":1.506,"m":14.439,"r":0.0042},{"p":1.508,"m":14.433,"r":-0.0018},{"p":1.51,"m":14.427,"r":-0.0078},{"p":1.512,"m":14.437,"r":0.0022},{"p":1.514,"m":14.442,"r":0.0072},{"p":1.516,"m":14.431,"r":-0.0038},{"p":1.518,"m":14.435,"r":0.0002},{"p":1.52,"m":14.428,"r":-0.0068},{"p":1.522,"m":14.44,"r":0.0052},{"p":1.524,"m":14.434,"r":-0.0008},{"p":1.526,"m":14.425,"r":-0.0098},{"p":1.528,"m":14.438,"r":0.0032},{"p":1.53,"m":14.432,"r":-0.0028},{"p":1.532,"m":14.436,"r":0.0012},{"p":1.534,"m":14.443,"r":0.0082},{"p":1.536,"m":14.43,"r":-0.0048},{"p":1.538,"m":14.422,"r":-0.0128},{"p":1.54,"m":14.437,"r":0.0022},{"p":1.542,"m":14.433,"r":-0.0018},{"p":1.544,"m":14.427,"r":-0.0078},{"p":1.546,"m":14.439,"r":0.0042},{"p":1.548,"m":14.447,"r":0.0122},
      {"p":1.551,"m":14.434,"r":-0.0013},{"p":1.553,"m":14.429,"r":-0.0063},{"p":1.555,"m":14.438,"r":0.0027},{"p":1.557,"m":14.449,"r":0.0137},{"p":1.559,"m":14.432,"r":-0.0033},{"p":1.561,"m":14.44,"r":0.0047},{"p":1.563,"m":14.436,"r":0.0007},{"p":1.565,"m":14.427,"r":-0.0083},{"p":1.567,"m":14.443,"r":0.0077},{"p":1.569,"m":14.433,"r":-0.0023},{"p":1.571,"m":14.437,"r":0.0017},{"p":1.573,"m":14.43,"r":-0.0053},{"p":1.575,"m":14.425,"r":-0.0103},{"p":1.577,"m":14.441,"r":0.0057},{"p":1.579,"m":14.435,"r":-0.0003},{"p":1.581,"m":14.428,"r":-0.0073},{"p":1.584,"m":14.424,"r":-0.0113},{"p":1.586,"m":14.439,"r":0.0037},{"p":1.588,"m":14.434,"r":-0.0013},{"p":1.59,"m":14.431,"r":-0.0043},{"p":1.592,"m":14.423,"r":-0.0123},{"p":1.594,"m":14.437,"r":0.0017},{"p":1.596,"m":14.417,"r":-0.0183},{"p":1.597,"m":14.447,"r":0.0117},{"p":1.599,"m":14.413,"r":-0.0223},
      {"p":1.601,"m":14.421,"r":-0.0148},{"p":1.602,"m":14.416,"r":-0.0198},{"p":1.604,"m":14.418,"r":-0.0178},{"p":1.606,"m":14.436,"r":0.0002},{"p":1.608,"m":14.43,"r":-0.0058},{"p":1.611,"m":14.422,"r":-0.0138},{"p":1.613,"m":14.44,"r":0.0042},{"p":1.615,"m":14.433,"r":-0.0028},{"p":1.617,"m":14.428,"r":-0.0078},{"p":1.619,"m":14.446,"r":0.0102},{"p":1.621,"m":14.437,"r":0.0012},{"p":1.623,"m":14.431,"r":-0.0048},{"p":1.625,"m":14.442,"r":0.0062},{"p":1.627,"m":14.435,"r":-0.0008},{"p":1.629,"m":14.427,"r":-0.0088},{"p":1.631,"m":14.439,"r":0.0032},{"p":1.634,"m":14.409,"r":-0.0268},{"p":1.635,"m":14.448,"r":0.0122},{"p":1.637,"m":14.433,"r":-0.0028},{"p":1.639,"m":14.438,"r":0.0022},{"p":1.641,"m":14.429,"r":-0.0068},{"p":1.643,"m":14.444,"r":0.0082},{"p":1.645,"m":14.436,"r":0.0002},{"p":1.647,"m":14.432,"r":-0.0038},{"p":1.649,"m":14.44,"r":0.0042},
      {"p":1.651,"m":14.433,"r":-0.0033},{"p":1.653,"m":14.441,"r":0.0047},{"p":1.655,"m":14.428,"r":-0.0083},{"p":1.657,"m":14.437,"r":0.0007},{"p":1.658,"m":14.424,"r":-0.0123},{"p":1.66,"m":14.418,"r":-0.0183},{"p":1.661,"m":14.456,"r":0.0197},{"p":1.663,"m":14.434,"r":-0.0023},{"p":1.665,"m":14.439,"r":0.0027},{"p":1.667,"m":14.431,"r":-0.0053},{"p":1.669,"m":14.444,"r":0.0077},{"p":1.671,"m":14.436,"r":-0.0003},{"p":1.673,"m":14.429,"r":-0.0073},{"p":1.675,"m":14.441,"r":0.0047},{"p":1.677,"m":14.435,"r":-0.0013},{"p":1.679,"m":14.438,"r":0.0017},{"p":1.681,"m":14.432,"r":-0.0043},{"p":1.683,"m":14.446,"r":0.0097},{"p":1.685,"m":14.427,"r":-0.0093},{"p":1.687,"m":14.437,"r":0.0007},{"p":1.689,"m":14.433,"r":-0.0033},{"p":1.691,"m":14.44,"r":0.0037},{"p":1.693,"m":14.43,"r":-0.0063},{"p":1.695,"m":14.436,"r":-0.0003},{"p":1.697,"m":14.443,"r":0.0067},{"p":1.699,"m":14.425,"r":-0.0113},
      {"p":1.701,"m":14.438,"r":0.0012},{"p":1.703,"m":14.432,"r":-0.0048},{"p":1.705,"m":14.441,"r":0.0042},{"p":1.707,"m":14.428,"r":-0.0088},{"p":1.709,"m":14.436,"r":-0.0008},{"p":1.711,"m":14.444,"r":0.0072},{"p":1.713,"m":14.434,"r":-0.0028},{"p":1.715,"m":14.439,"r":0.0022},{"p":1.717,"m":14.43,"r":-0.0068},{"p":1.719,"m":14.437,"r":0.0002},{"p":1.721,"m":14.442,"r":0.0052},{"p":1.723,"m":14.433,"r":-0.0038},{"p":1.725,"m":14.427,"r":-0.0098},{"p":1.727,"m":14.44,"r":0.0032},{"p":1.729,"m":14.435,"r":-0.0018},{"p":1.731,"m":14.446,"r":0.0092},{"p":1.733,"m":14.431,"r":-0.0058},{"p":1.735,"m":14.438,"r":0.0012},{"p":1.737,"m":14.445,"r":0.0082},{"p":1.739,"m":14.436,"r":-0.0008},{"p":1.741,"m":14.429,"r":-0.0078},{"p":1.743,"m":14.44,"r":0.0032},{"p":1.745,"m":14.434,"r":-0.0028},{"p":1.747,"m":14.443,"r":0.0062},{"p":1.749,"m":14.437,"r":0.0002},
      {"p":1.751,"m":14.44,"r":0.0027},{"p":1.753,"m":14.452,"r":0.0147},{"p":1.754,"m":14.45,"r":0.0127},{"p":1.756,"m":14.433,"r":-0.0043},{"p":1.758,"m":14.438,"r":0.0007},{"p":1.76,"m":14.444,"r":0.0067},{"p":1.762,"m":14.43,"r":-0.0073},{"p":1.764,"m":14.436,"r":-0.0013},{"p":1.766,"m":14.441,"r":0.0037},{"p":1.768,"m":14.432,"r":-0.0053},{"p":1.77,"m":14.439,"r":0.0017},{"p":1.772,"m":14.446,"r":0.0087},{"p":1.774,"m":14.428,"r":-0.0093},{"p":1.776,"m":14.435,"r":-0.0023},{"p":1.778,"m":14.442,"r":0.0047},{"p":1.78,"m":14.437,"r":-0.0003},{"p":1.782,"m":14.431,"r":-0.0063},{"p":1.784,"m":14.424,"r":-0.0133},{"p":1.786,"m":14.44,"r":0.0027},{"p":1.788,"m":14.434,"r":-0.0033},{"p":1.79,"m":14.443,"r":0.0057},{"p":1.793,"m":14.423,"r":-0.0143},{"p":1.795,"m":14.438,"r":0.0007},{"p":1.797,"m":14.429,"r":-0.0083},{"p":1.799,"m":14.433,"r":-0.0043},
      {"p":1.801,"m":14.436,"r":-0.0015},{"p":1.803,"m":14.442,"r":0.0045},{"p":1.805,"m":14.43,"r":-0.0075},{"p":1.807,"m":14.439,"r":0.0015},{"p":1.808,"m":14.451,"r":0.0135},{"p":1.81,"m":14.434,"r":-0.0035},{"p":1.812,"m":14.444,"r":0.0065},{"p":1.814,"m":14.437,"r":-0.0005},{"p":1.817,"m":14.417,"r":-0.0205},{"p":1.818,"m":14.453,"r":0.0155},{"p":1.82,"m":14.44,"r":0.0025},{"p":1.823,"m":14.449,"r":0.0115},{"p":1.825,"m":14.435,"r":-0.0025},{"p":1.827,"m":14.429,"r":-0.0085},{"p":1.829,"m":14.438,"r":0.0005},{"p":1.831,"m":14.445,"r":0.0075},{"p":1.833,"m":14.433,"r":-0.0045},{"p":1.835,"m":14.437,"r":-0.0005},{"p":1.837,"m":14.441,"r":0.0035},{"p":1.838,"m":14.448,"r":0.0105},{"p":1.84,"m":14.436,"r":-0.0015},{"p":1.842,"m":14.432,"r":-0.0055},{"p":1.844,"m":14.439,"r":0.0015},{"p":1.846,"m":14.428,"r":-0.0095},{"p":1.848,"m":14.434,"r":-0.0035},
      {"p":1.851,"m":14.442,"r":0.0049},{"p":1.853,"m":14.434,"r":-0.003},{"p":1.855,"m":14.411,"r":-0.0259},{"p":1.857,"m":14.438,"r":0.0012},{"p":1.858,"m":14.443,"r":0.0063},{"p":1.86,"m":14.431,"r":-0.0056},{"p":1.862,"m":14.437,"r":0.0005},{"p":1.863,"m":14.448,"r":0.0116},{"p":1.865,"m":14.435,"r":-0.0013},{"p":1.867,"m":14.44,"r":0.0038},{"p":1.869,"m":14.444,"r":0.0079},{"p":1.871,"m":14.44,"r":0.0041},{"p":1.873,"m":14.437,"r":0.0013},{"p":1.875,"m":14.432,"r":-0.0036},{"p":1.877,"m":14.444,"r":0.0086},{"p":1.88,"m":14.441,"r":0.0059},{"p":1.882,"m":14.433,"r":-0.0019},{"p":1.885,"m":14.437,"r":0.0024},{"p":1.888,"m":14.422,"r":-0.0123},{"p":1.89,"m":14.439,"r":0.005},{"p":1.892,"m":14.424,"r":-0.0095},{"p":1.894,"m":14.43,"r":-0.0031},{"p":1.896,"m":14.426,"r":-0.0067},{"p":1.898,"m":14.432,"r":-0.0003},{"p":1.9,"m":14.438,"r":0.0061},{"p":1.901,"m":14.435,"r":0.0033},
      {"p":1.903,"m":14.431,"r":-0.0003},{"p":1.905,"m":14.42,"r":-0.011},{"p":1.906,"m":14.425,"r":-0.0058},{"p":1.908,"m":14.434,"r":0.0037},{"p":1.911,"m":14.418,"r":-0.0114},{"p":1.912,"m":14.425,"r":-0.0041},{"p":1.914,"m":14.431,"r":0.0026},{"p":1.916,"m":14.428,"r":0.0002},{"p":1.918,"m":14.422,"r":-0.0053},{"p":1.92,"m":14.434,"r":0.0074},{"p":1.922,"m":14.418,"r":-0.008},{"p":1.923,"m":14.433,"r":0.0073},{"p":1.925,"m":14.424,"r":-0.0014},{"p":1.926,"m":14.428,"r":0.0033},{"p":1.928,"m":14.415,"r":-0.0089},{"p":1.93,"m":14.421,"r":-0.0021},{"p":1.932,"m":14.425,"r":0.0027},{"p":1.934,"m":14.416,"r":-0.0058},{"p":1.935,"m":14.408,"r":-0.0132},{"p":1.936,"m":14.428,"r":0.0072},{"p":1.937,"m":14.418,"r":-0.0024},{"p":1.939,"m":14.422,"r":0.0026},{"p":1.941,"m":14.412,"r":-0.0068},{"p":1.942,"m":14.425,"r":0.0065},{"p":1.944,"m":14.419,"r":0.001},{"p":1.946,"m":14.415,"r":-0.0023},{"p":1.948,"m":14.424,"r":0.0073},{"p":1.949,"m":14.413,"r":-0.0034},{"p":1.951,"m":14.419,"r":0.003},{"p":1.953,"m":14.416,"r":0.0009},{"p":1.954,"m":14.412,"r":-0.0029},{"p":1.956,"m":14.418,"r":0.0034},{"p":1.957,"m":14.41,"r":-0.0044},{"p":1.958,"m":14.421,"r":0.0069},{"p":1.96,"m":14.419,"r":0.0051},{"p":1.961,"m":14.423,"r":0.0093},{"p":1.963,"m":14.414,"r":0.0004},{"p":1.964,"m":14.412,"r":-0.0015},{"p":1.966,"m":14.417,"r":0.0034},{"p":1.968,"m":14.41,"r":-0.0039},{"p":1.969,"m":14.416,"r":0.002},{"p":1.97,"m":14.42,"r":0.0058},{"p":1.971,"m":14.411,"r":-0.0035},{"p":1.973,"m":14.414,"r":-0.001},{"p":1.975,"m":14.418,"r":0.0025},{"p":1.977,"m":14.413,"r":-0.0036},{"p":1.979,"m":14.41,"r":-0.0078},{"p":1.981,"m":14.405,"r":-0.014},{"p":1.982,"m":14.425,"r":0.0054},{"p":1.983,"m":14.414,"r":-0.0061},{"p":1.985,"m":14.419,"r":-0.0023},{"p":1.987,"m":14.416,"r":-0.0065},{"p":1.988,"m":14.431,"r":0.0077},{"p":1.989,"m":14.417,"r":-0.0071},{"p":1.99,"m":14.435,"r":0.0102},{"p":1.992,"m":14.434,"r":0.0078},{"p":1.994,"m":14.42,"r":-0.0086},{"p":1.996,"m":14.432,"r":0.0026},{"p":1.998,"m":14.424,"r":-0.007},{"p":1.999,"m":14.439,"r":0.0072}
    ]
  },
  "vconcat": [
    {
      "width": 2220,
      "height": 869,
      "layer": [
        {
          "data": {"name": "pts"},
          "mark": {"type": "circle", "size": 177, "color": "black", "opacity": 1},
          "encoding": {
            "x": {"field": "p", "type": "quantitative", "scale": {"domain": [0, 2], "nice": false, "zero": false},
                  "axis": {"values": [0, 0.25, 0.5, 0.75, 1, 1.25, 1.5, 1.75, 2], "labels": false, "title": null}},
            "y": {"field": "m", "type": "quantitative", "scale": {"domain": [14.3948, 14.4711], "reverse": true, "nice": false, "zero": false},
                  "axis": {"values": [14.40, 14.41, 14.42, 14.43, 14.44, 14.45, 14.46, 14.47], "format": ".2f", "title": "I-band magnitude", "titlePadding": 33}}
          }
        },
        {
          "data": {"name": "fit"},
          "mark": {"type": "line", "color": "#ff0000", "strokeWidth": 12.6, "interpolate": "monotone"},
          "encoding": {
            "x": {"field": "p", "type": "quantitative"},
            "y": {"field": "c", "type": "quantitative"}
          }
        }
      ]
    },
    {
      "width": 2220,
      "height": 288,
      "layer": [
        {
          "data": {"name": "pts"},
          "mark": {"type": "circle", "size": 177, "color": "black", "opacity": 1},
          "encoding": {
            "x": {"field": "p", "type": "quantitative", "scale": {"domain": [0, 2], "nice": false, "zero": false},
                  "axis": {"values": [0, 0.25, 0.5, 0.75, 1, 1.25, 1.5, 1.75, 2], "format": ".2f", "title": "Orbital phase", "labelPadding": 9, "titlePadding": 11}},
            "y": {"field": "r", "type": "quantitative", "scale": {"domain": [-0.0368, 0.0298], "reverse": true, "nice": false, "zero": false},
                  "axis": {"values": [-0.025, 0, 0.025], "format": ".3f", "title": "ΔI (mag)", "titlePadding": 36}}
          }
        },
        {
          "mark": {"type": "rule", "color": "#ff0000", "strokeWidth": 4.5, "strokeDash": [19, 8]},
          "encoding": {"y": {"datum": 0}}
        }
      ]
    }
  ]
}
